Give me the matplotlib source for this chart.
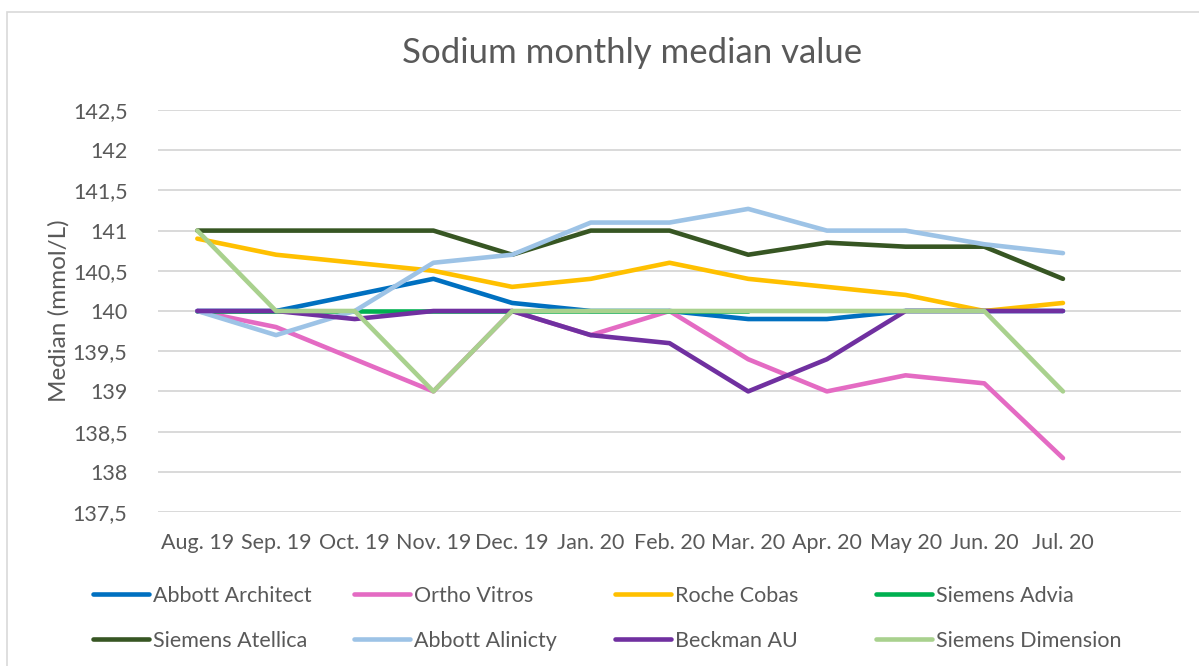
import numpy as np
import matplotlib.pyplot as plt
from matplotlib.patches import Rectangle

plt.rcParams['font.family'] = ['Lato', 'DejaVu Sans']

months = ["Aug. 19", "Sep. 19", "Oct. 19", "Nov. 19", "Dec. 19", "Jan. 20",
          "Feb. 20", "Mar. 20", "Apr. 20", "May 20", "Jun. 20", "Jul. 20"]

nan = np.nan
abbott_architect = [140, 140, 140.2, 140.4, 140.1, 140, 140, 139.9, 139.9, 140, 140, 140]
ortho_vitros = [140, 139.8, 139.4, 139, 140, 139.7, 140, 139.4, 139, 139.2, 139.1, 138.17]
roche_cobas = [140.9, 140.7, 140.6, 140.5, 140.3, 140.4, 140.6, 140.4, 140.3, 140.2, 140, 140.1]
siemens_advia = [140, 140, 140, 140, 140, 140, 140, 140, nan, nan, nan, nan]
siemens_atellica = [141, 141, 141, 141, 140.7, 141, 141, 140.7, 140.85, 140.8, 140.8, 140.4]
abbott_alinicty = [140, 139.7, 140, 140.6, 140.7, 141.1, 141.1, 141.27, 141, 141, 140.83, 140.72]
beckman_au = [140, 140, 139.9, 140, 140, 139.7, 139.6, 139, 139.4, 140, 140, 140]
siemens_dimension = [141, 140, 140, 139, 140, 140, 140, 140, 140, 140, 140, 139]

series = [
    ("Abbott Architect", abbott_architect, "#0070C0"),
    ("Ortho Vitros", ortho_vitros, "#E46BC3"),
    ("Roche Cobas", roche_cobas, "#FFC000"),
    ("Siemens Advia", siemens_advia, "#00B050"),
    ("Siemens Atellica", siemens_atellica, "#375623"),
    ("Abbott Alinicty", abbott_alinicty, "#9DC3E6"),
    ("Beckman AU", beckman_au, "#7030A0"),
    ("Siemens Dimension", siemens_dimension, "#A9D18E"),
]

text_color = "#595959"
W, H = 1199, 666
fig = plt.figure(figsize=(W / 100, H / 100), dpi=100)
fig.patches.append(Rectangle((7 / W, -0.01), 1.02, 1 - 12 / H + 0.01, transform=fig.transFigure,
                             fill=False, edgecolor="#D9D9D9", linewidth=1.2))

ax = fig.add_axes([158 / W, 1 - 512 / H, (1181 - 158) / W, (512 - 110) / H])
x = np.arange(len(months))
handles = {}
for name, vals, color in series:
    ln, = ax.plot(x, vals, color=color, linewidth=3.3, solid_capstyle='round',
                  solid_joinstyle='round', label=name)
    handles[name] = ln

ax.set_xlim(-0.5, len(months) + 0.5)
ax.set_ylim(137.5, 142.5)
yt = np.arange(137.5, 142.51, 0.5)
ax.set_yticks(yt)
ax.set_yticklabels([("%g" % v).replace(".", ",") for v in yt])
ax.set_xticks(x)
ax.set_xticklabels(months)
ax.tick_params(axis='both', length=0, labelsize=15.5, colors=text_color)
ax.tick_params(axis='y', pad=22)
ax.tick_params(axis='x', pad=15)
ax.grid(axis='y', color="#D9D9D9", linewidth=1.4)
ax.set_axisbelow(True)
for s in ax.spines.values():
    s.set_visible(False)

fig.text(59 / W, 1 - 311 / H, "Median (mmol/L)", rotation=90, ha='center', va='center',
         fontsize=17.5, color=text_color)
fig.text(632 / W, 1 - 53 / H, "Sodium monthly median value", ha='center', va='center',
         fontsize=25, color=text_color)

# legend: four columns of two rows
cols = [["Abbott Architect", "Siemens Atellica"], ["Ortho Vitros", "Abbott Alinicty"],
        ["Roche Cobas", "Beckman AU"], ["Siemens Advia", "Siemens Dimension"]]
col_x = [93, 354, 615, 876]
for names, cx in zip(cols, col_x):
    leg = fig.legend([handles[n] for n in names], names, loc='center left',
                     bbox_to_anchor=(cx / W, 1 - 618.5 / H), frameon=False,
                     fontsize=15.5, handlelength=2.6, handletextpad=0.2,
                     labelspacing=1.16, borderaxespad=0, borderpad=0)
    for t in leg.get_texts():
        t.set_color(text_color)

fig.savefig("out.png", dpi=100)
